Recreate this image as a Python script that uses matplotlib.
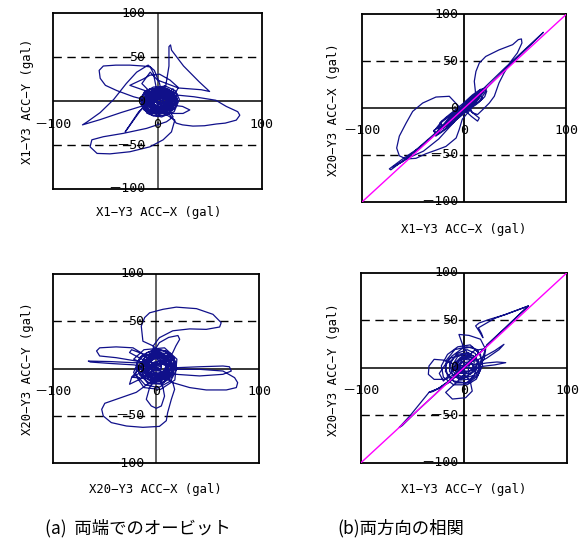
import matplotlib
matplotlib.use('Agg')
import matplotlib.pyplot as plt
from matplotlib.transforms import offset_copy

plt.rcParams['font.family'] = ['Noto Sans CJK JP', 'DejaVu Sans']

# ---------------- data (gal) ----------------
tick_values = [100, 50, 0, -50, -100]
tick_labels = ['100', '50', '0', '\uff0d50', '\uff0d100']
xtick_values = [-100, 0, 100]
xtick_labels = ['\uff0d100', '0', '100']

# (a) top: X1-Y3 orbit (ACC-X, ACC-Y)
orbit_x1 = [
 (2,3),(9,7),(13,2),(10,-5),(3,-8),(-5,-5),(-8,2),(-4,9),(4,11),(12,7),(14,-1),(9,-9),(0,-11),(-8,-7),(-11,1),(-7,9),(1,13),(9,12),(15,5),(13,-4),(6,-10),(-3,-10),(-9,-3),(-10,5),(-4,11),(5,14),(12,10),(16,2),(12,-7),(3,-12),(-6,-9),(-12,-1),(-9,8),(-1,15),(8,15),(15,9),(18,0),(13,-10),(2,-14),(-9,-11),(-14,-2),(-11,7),
 (-2,12),(8,18),(11,40),(11,62),(12.5,64),(13.5,58),(25,40),(40,22),(50,11),(42,13),(20,15),(0,24),(-7,33),(-15,20),(-5,8),
 (5,5),(12,1),(8,-6),(-1,-7),(-6,-1),(-3,7),(6,9),(12,4),(10,-4),(2,-9),(-7,-6),(-10,3),(-5,10),(4,12),(11,8),(14,0),(9,-8),(-1,-10),(-9,-5),(-11,4),
 (-10,1),(-23,5),(-39,12),(-50,18),(-55,26),(-56,35),(-52,40),(-40,41),(-26.5,41),(-14,40),(-7,39),(-4,32),(-2,20),(0,8),
 (6,4),(10,-3),(4,-8),(-4,-5),(-6,3),(0,9),(8,8),(11,1),(6,-6),(-2,-6),(-5,1),(-1,7),(6,6),
 (-5,-3),(-17,-6.4),(-35,-13),(-55,-21),(-72,-27),(-68,-24),(-55,-13),(-42,2),(-30,20),(-20,33),(-9,41),(-3,35),(2,20),(4,8),
 (-3,2),(5,10),(13,6),(15,-3),(10,-11),(0,-13),(-9,-9),(-13,0),(-9,10),(0,15),(10,14),(17,7),(19,-2),
 (18,7),(35,5),(56,1),(66,-6),(77,-12),(79,-16),(75.6,-21.6),(65,-25),(56.5,-26),(45,-28),(34,-28.4),(24,-27),(18,-25),(12,-16),(5,-8),
 (-4,-3),(3,6),(10,2),(7,-6),(-1,-8),(-7,-3),(-5,6),(3,10),(11,6),(13,-3),(7,-10),(-3,-11),
 (8,-15),(16.6,-21.6),(13.4,-35),(5.4,-44),(-7.3,-52),(-26.5,-57.6),(-45.6,-60),(-58,-59.5),(-64.7,-52),(-63,-44),(-52,-40.5),(-33,-36.7),(-10.5,-31),(8.6,-23.5),(15,-18),(10,-8),
 (2,-3),(-6,2),(-2,10),(7,11),(13,4),(11,-5),(3,-9),(-6,-7),(-10,1),(-6,9),(2,12),
 (-5,0),(-13.7,-6.4),(-22,-20),(-31,-35),(-27,-28),(-18,-12),(-8,-2),
 (1,6),(9,9),(14,3),(12,-6),(4,-11),(-5,-9),(-10,-2),(-8,7),(-1,11),(7,10),(12,4),
 (0,8),(-12,12),(-26.5,18),(-23,20),(-14,25),(-7.3,29.5),(2,30.7),(12,24),(20,15.5),(18,11),(10,6),
 (2,-14),(15,-14),(24.5,-14),(31,-10),(24,-6),(10,-4),
 (3,2),(-4,6),(-9,-2),(-4,-9),(5,-9),(11,-2),(8,7),(0,10),(-7,6),(-8,-3),(-1,-7),(6,-4),(6,3),(0,5),(-3,0),(1,-3),(3,1),
 (4,0),(14,9),(19,3),(17,-8),(8,-16),(-4,-17),(-13,-10),(-16,0),(-13,10),(-4,16),(8,17),(17,12),(21,2),(16,-12),(4,-18),(-8,-15),(-15,-6),(-14,6),(-7,14),(3,13),(11,6),(12,-5),(4,-12),(-6,-12),(-12,-4),(-10,6),(-2,11),(8,8),(10,-1),(3,-7),(-5,-4),(-4,4),(4,5),(6,-2),(0,-4),(-2,2),(2,3),(15,14),(18,-5),(10,-14),(-10,-14),(-17,3),(-10,13),(5,16),(19,8),(14,-9),(0,-16),(-12,-8),(-12,8),(0,12),(12,12),(17,-2),(8,-12),(-6,-14),(-16,-4),(-8,10),(6,14),(16,6),(12,-10),(-2,-13),(-14,2),(-4,14),(10,10),(13,-6),(0,0)]

# (a) bottom: X20-Y3 orbit (ACC-X, ACC-Y)
orbit_x20 = [
 (0,3),(8,9),(12,3),(9,-5),(1,-8),(-7,-4),(-10,4),(-5,12),(4,15),(12,11),(15,3),(11,-7),(2,-11),(-8,-8),(-13,1),(-9,11),(0,17),(10,16),(17,8),(16,-2),(9,-11),(-1,-14),(-11,-10),(-15,0),(-12,11),(-3,18),(7,19),(15,13),(18,3),(13,-8),(3,-13),(-7,-11),(-13,-3),(-11,7),(-4,13),(5,13),(11,8),
 (6,15),(-3,24),(-13,29),(-14.6,45),(-11.3,54),(-6.5,59),(6.5,62.7),(19.4,65),(39,63.4),(55,57.4),(63,48.6),(61.5,44),(48.5,41.5),(32.4,42),(16,40),(3,32.7),(-3,24),(-2,14),
 (4,6),(11,2),(8,-6),(0,-9),(-8,-5),(-10,4),(-5,12),(4,14),(12,9),(14,0),(8,-9),(-2,-12),(-10,-7),(-13,3),
 (-6,12),(3,27.5),(12,33),(21,35),(22.7,31),(19,24),(16,17),(11,10),(5,4),
 (-3,-3),(-7,5),(-2,11),(6,11),(10,4),(7,-4),(-1,-6),(-6,0),
 (-9.7,13.4),(-22.6,22),(-39,23),(-55,22),(-58,18.7),(-55,13.4),(-39,11.6),(-19.4,8),(-8,6),
 (-22.6,6.3),(-45,7.5),(-66,8),(-64,7),(-45,5.5),(-22,4),(-8,2),
 (2,8),(10,6),(12,-2),(6,-9),(-3,-10),(-10,-4),(-11,5),(-6,13),(3,16),(11,12),
 (15,4),(19.4,1),(42,2),(64.7,2.8),(71,2),(72.8,-2.5),(64.7,-6),(42,-7.7),(19.4,-6),(8,-3),
 (-2,-2),(-8,4),(-4,11),(5,12),(11,5),(9,-3),
 (17.8,-0.7),(42,-0.7),(64.7,-2.5),(76,-9.5),(79,-14.8),(77.7,-20),(68,-22.5),(48.5,-22.5),(32.4,-20),(16,-14.8),(6,-8),
 (-4,-6),(-9,2),(-6,10),(3,13),(11,9),(14,0),(9,-8),(0,-11),
 (-6.5,-14.8),(-19.4,-25),(-39,-32.4),(-50,-36.6),(-53,-43),(-51.5,-50),(-43.7,-57),(-29,-60.6),(-13,-62),(3,-61),(9.7,-55),(11,-46.5),(14.6,-32.4),(17.8,-21.8),(16,-14.8),(8,-6),
 (-1,2),(-7,9),(0,15),(9,13),(13,4),(9,-6),(0,-9),
 (-6.5,-20),(-9.7,-32.4),(-4.9,-39.4),(0,-41.9),(4.9,-39.4),(8,-29),(6.5,-20),(3,-10),
 (-10,-8),(-26,-16.5),(-24,-9.5),(-12,-2),
 (-3,6),(5,9),(10,3),(6,-4),(-2,-5),(-6,1),(-2,7),(4,5),(5,0),(0,-2),(-2,3),(1,4),
 (-14,10),(-26,17),(-24,20),(-14,16),(-5,8),
 (-18,-2),(-24,-9),(-15,-10),(-5,-4),(0,2),
 (3,4),(13,10),(18,2),(15,-9),(5,-16),(-7,-15),(-16,-7),(-19,4),(-14,14),(-3,20),(9,19),(17,12),(20,0),(14,-13),(2,-20),(-11,-17),(-20,-6),(-18,8),(-9,17),(4,20),(14,16),(19,6),(16,-6),(7,-14),(-5,-14),(-14,-6),(-14,6),(-6,14),(6,15),(14,8),(15,-3),(7,-10),(-3,-10),(-10,-2),(-8,8),(1,11),(9,7),(10,-2),(3,-6),(-4,-3),(-3,5),(4,6),(5,0),(0,0),(-22,10),(-12,20),(8,22),(20,10),(18,-12),(4,-22),(-12,-20),(-22,-4),(-16,12),(0,18),(14,12),(16,-4),(6,-16),(-8,-16),(-18,-2),(-10,14),(6,16),(16,4),(10,-10),(-2,-14),(-12,-2),(0,3)]

# (b) top: X1-Y3 ACC-X vs X20-Y3 ACC-X
corr_x = [
 (0,0),(6,8),(10,7),(5,1),(-3,-5),(-8,-6),(-4,0),(4,5),(12,14),(16,15),(11,8),(2,-1),(-7,-9),(-13,-12),(-9,-5),(0,3),(8,11),(15,19),(19,17),(13,9),(3,0),(-6,-8),(-15,-16),(-20,-17),(-14,-9),(-4,-1),(6,7),
 (20,22),(40,43),(60,63),(77.5,80.8),(76,79),(58,60),(38,39),(18,17),(-2,-4),(-25,-25),(-45,-43),(-60,-54),(-73.5,-65),(-72,-66),(-55,-52),(-35,-33),(-15,-14),(0,0),
 (8,6),(12,11),(7,9),(-1,2),(-10,-8),(-16,-14),(-11,-12),(-2,-3),(9,5),(14,12),(10,13),(1,4),
 (11.4,12.5),(9.8,28.5),(11.4,39),(14.7,48),(21,55),(34,62),(47.4,67.6),(53,73),(56,73.7),(56.5,69.4),(52,58.7),(45.8,50),(39,37.4),(34,26.7),(29.4,12.5),(24.5,5.3),(18,-1.8),(13,-7),(8,-5),
 (2,1),(-6,-3),(-12,-10),(-8,-11),(1,-4),(7,3),(12,9),(6,7),(-3,-1),
 (-14.7,12.5),(-27.8,11.7),(-40.8,5.3),(-50.6,-3.6),(-57,-16),(-63.7,-30),(-66.3,-42.7),(-63.7,-51),(-57,-54.4),(-47.4,-53.7),(-37.6,-48.8),(-27.8,-45),(-18,-41),(-8,-32),(-5,-23),(-2,-12),
 (5,-3),(10,4),(4,6),(-5,-2),(-14,-8),(-22,-15),(-26,-22),(-18,-19),(-8,-9),(2,-1),
 (-20,-20),(-40.8,-40),(-60,-57),(-70,-63),(-55,-53.4),(-40,-46),(-25,-33),(-10,-15),
 (0,-4),(8,2),(15,8),(20,16),(22,22),(17,20),(9,11),(0,2),(-7,-4),(-14,-14),(-24,-20),(-30,-24),(-27,-27),(-17,-17),(-6,-8),(4,3),
 (8,-5),(14.7,-10.7),(13,-14),(7,-9),(2,-4),
 (-4,-2),(3,7),(11,10),(7,4),(-1,-6),(-10,-10),(-5,-3),(0,0),
 (0,2),(-5,-8),(-12,-9),(-18,-19),(-25,-22),(-28,-30),(-20,-24),(-10,-15),(-2,-2),(6,3),(14,10),(18,19),(12,16),(4,9),(-3,1),(-12,-6),(-22,-14),(-30,-25),(-26,-28),(-16,-20),(-6,-10),(4,-2),(12,4),(20,12),(22,18),(16,20),(8,14),(-1,5),(-10,-3),(-18,-10),(-24,-16),(-20,-20),(-12,-16),(-4,-8),(5,0),(14,6),(18,10),(15,14),(9,10),(1,3),(-8,-5),(-16,-13),(-22,-22),(-15,-18),(-6,-11),(3,-3),(10,5),(16,13),(11,14),(3,7),(-5,-1),(-14,-10),(-9,-12),(0,-5),(8,1),(0,0)]

# (b) bottom: X1-Y3 ACC-Y vs X20-Y3 ACC-Y
corr_y = [
 (0,0),(7,6),(10,12),(4,14),(-5,8),(-10,0),(-6,-8),(2,-10),(9,-4),(13,5),(11,15),(3,19),(-7,15),(-13,5),(-12,-6),(-4,-13),(6,-12),(14,-3),(17,9),(13,19),(3,22),(-9,19),(-17,8),(-18,-4),(-10,-14),(2,-16),(12,-8),(16,3),
 (22,24),(40,42),(62.5,65),(40.5,56),(25,51),(14.6,47),(11.3,44),(14.6,38.6),(18.4,31.6),(17,36),(14,42),(30,52),(50,60),(62.5,65),(45,47),(28,29),(10,10),(-8,-9),(-25,-22),(-34,-26),(-40,-34),(-52,-50),(-63,-63),(-60,-61),(-45,-45),(-28,-28),(-12,-11),(0,1),
 (8,4),(12,-2),(6,-7),(-3,-5),(-8,3),(-4,10),(5,12),(11,7),
 (20,12),(30,18),(38.8,24.6),(34,19),(22,10),(10,3),
 (22,5),(32,6),(40.5,5.3),(30,3),(15,1),
 (4,-4),(-5,-2),(-8,6),(-2,12),(7,11),
 (0,20),(-4.9,35),(4.9,34),(16,30),(21,19.3),(19.4,8.8),(12,-2),
 (-10,4),(-20,8),(-29,8.8),(-34,1.8),(-34.6,-7),(-29,-12.3),(-17.8,-12.3),(-8,-6),
 (2,3),(8,9),(3,15),(-6,12),(-11,3),(-7,-5),(1,-6),
 (-6,-14),(-17.8,-26),(-11.3,-33),(1.6,-31.6),(8,-24.6),(6,-14),(0,-6),
 (-5,2),(-2,9),(6,8),(9,1),(4,-6),(-4,-4),(-3,5),(4,6),(2,0),
 (-15,-16),(-30,-25),(-34,-26),(-25,-22),(-12,-12),(0,0),
 (2,2),(10,8),(14,16),(8,22),(-2,20),(-12,12),(-18,2),(-16,-9),(-8,-16),(4,-16),(13,-9),(18,2),(16,14),(6,24),(-6,22),(-16,14),(-22,2),(-20,-10),(-10,-18),(3,-18),(12,-12),(16,-2),(12,10),(4,16),(-6,14),(-14,6),(-14,-4),(-8,-10),(2,-10),(8,-4),(10,6),(4,10),(-4,8),(-8,0),(-4,-6),(4,-4),(5,3),(0,4),(-2,0),(20,20),(10,18),(-4,4),(-20,-14),(-24,-6),(-14,10),(0,14),(14,8),(10,-8),(-4,-12),(-12,-2),(0,0)]

diag = [-100, 100]

W, H = 586, 546
fig = plt.figure(figsize=(W / 100, H / 100), dpi=100)

TRACE = '#10108a'
TICKFONT = ['DejaVu Sans Mono', 'Noto Sans CJK JP']
LABFONT = ['DejaVu Sans Mono', 'Noto Sans CJK JP']


def add_ax(l, t, r, b):
    return fig.add_axes([l / W, 1 - b / H, (r - l) / W, (b - t) / H])


def setup(ax, pts, ylab_off, vcol, diagonal=False):
    ax.set_xlim(-100, 100)
    ax.set_ylim(-100, 100)
    ax.set_xticks([])
    ax.set_yticks([])
    for s in ax.spines.values():
        s.set_linewidth(1.3)
        s.set_color('black')
    ax.axhline(0, color='black', lw=1.1, zorder=1)
    ax.axvline(0, color=vcol, lw=1.3, zorder=1)
    for v in (50, -50):
        ax.axhline(v, color='black', lw=1.0, ls=(0, (6, 4)), zorder=1)
    xs = [p[0] for p in pts]
    ys = [p[1] for p in pts]
    ax.plot(xs, ys, color=TRACE, lw=0.9, zorder=3)
    if diagonal:
        ax.plot(diag, diag, color='#ff00ff', lw=1.0, zorder=4)
    ty = offset_copy(ax.transData, fig=fig, x=-ylab_off, y=0, units='dots')
    for v, lab in zip(tick_values, tick_labels):
        ax.text(0, v, lab, transform=ty, ha='right', va='center', fontsize=9.5,
                family=TICKFONT, clip_on=False, zorder=10)
    tx = offset_copy(ax.transData, fig=fig, x=0, y=-23, units='dots')
    for v, lab in zip(xtick_values, xtick_labels):
        ax.text(v, 0, lab, transform=tx, ha='center', va='center', fontsize=9.5,
                family=TICKFONT, clip_on=False, zorder=10)


ax1 = add_ax(53.3, 13.3, 261.7, 189)
ax2 = add_ax(362.3, 14.3, 566.3, 201.7)
ax3 = add_ax(53.3, 274, 259.3, 463.3)
ax4 = add_ax(361, 272.7, 567, 462.7)

setup(ax1, orbit_x1, 12, '#555555')
setup(ax2, corr_x, 6, 'black', diagonal=True)
setup(ax3, orbit_x20, 12, '#555555')
setup(ax4, corr_y, 6, 'black', diagonal=True)


def ftext(x, y, s, **kw):
    fig.text(x / W, 1 - y / H, s, **kw)


LAB = 8.8
kw = dict(ha='center', va='center', fontsize=LAB, family=LABFONT)
ftext(159, 213, 'X1\u2212Y3 ACC\u2212X (gal)', **kw)
ftext(28, 101, 'X1\u2212Y3 ACC\u2212Y (gal)', rotation=90, **kw)
ftext(464, 229, 'X1\u2212Y3 ACC\u2212X (gal)', **kw)
ftext(333, 110, 'X20\u2212Y3 ACC\u2212X (gal)', rotation=90, **kw)
ftext(155, 490, 'X20\u2212Y3 ACC\u2212X (gal)', **kw)
ftext(28, 369, 'X20\u2212Y3 ACC\u2212Y (gal)', rotation=90, **kw)
ftext(464, 489, 'X1\u2212Y3 ACC\u2212Y (gal)', **kw)
ftext(333, 370, 'X20\u2212Y3 ACC\u2212Y (gal)', rotation=90, **kw)

ftext(45, 528, '(a)  両端でのオービット', ha='left', va='center', fontsize=12.5)
ftext(337, 528, '(b)両方向の相関', ha='left', va='center', fontsize=12.5)

fig.savefig('out.png', dpi=100)
